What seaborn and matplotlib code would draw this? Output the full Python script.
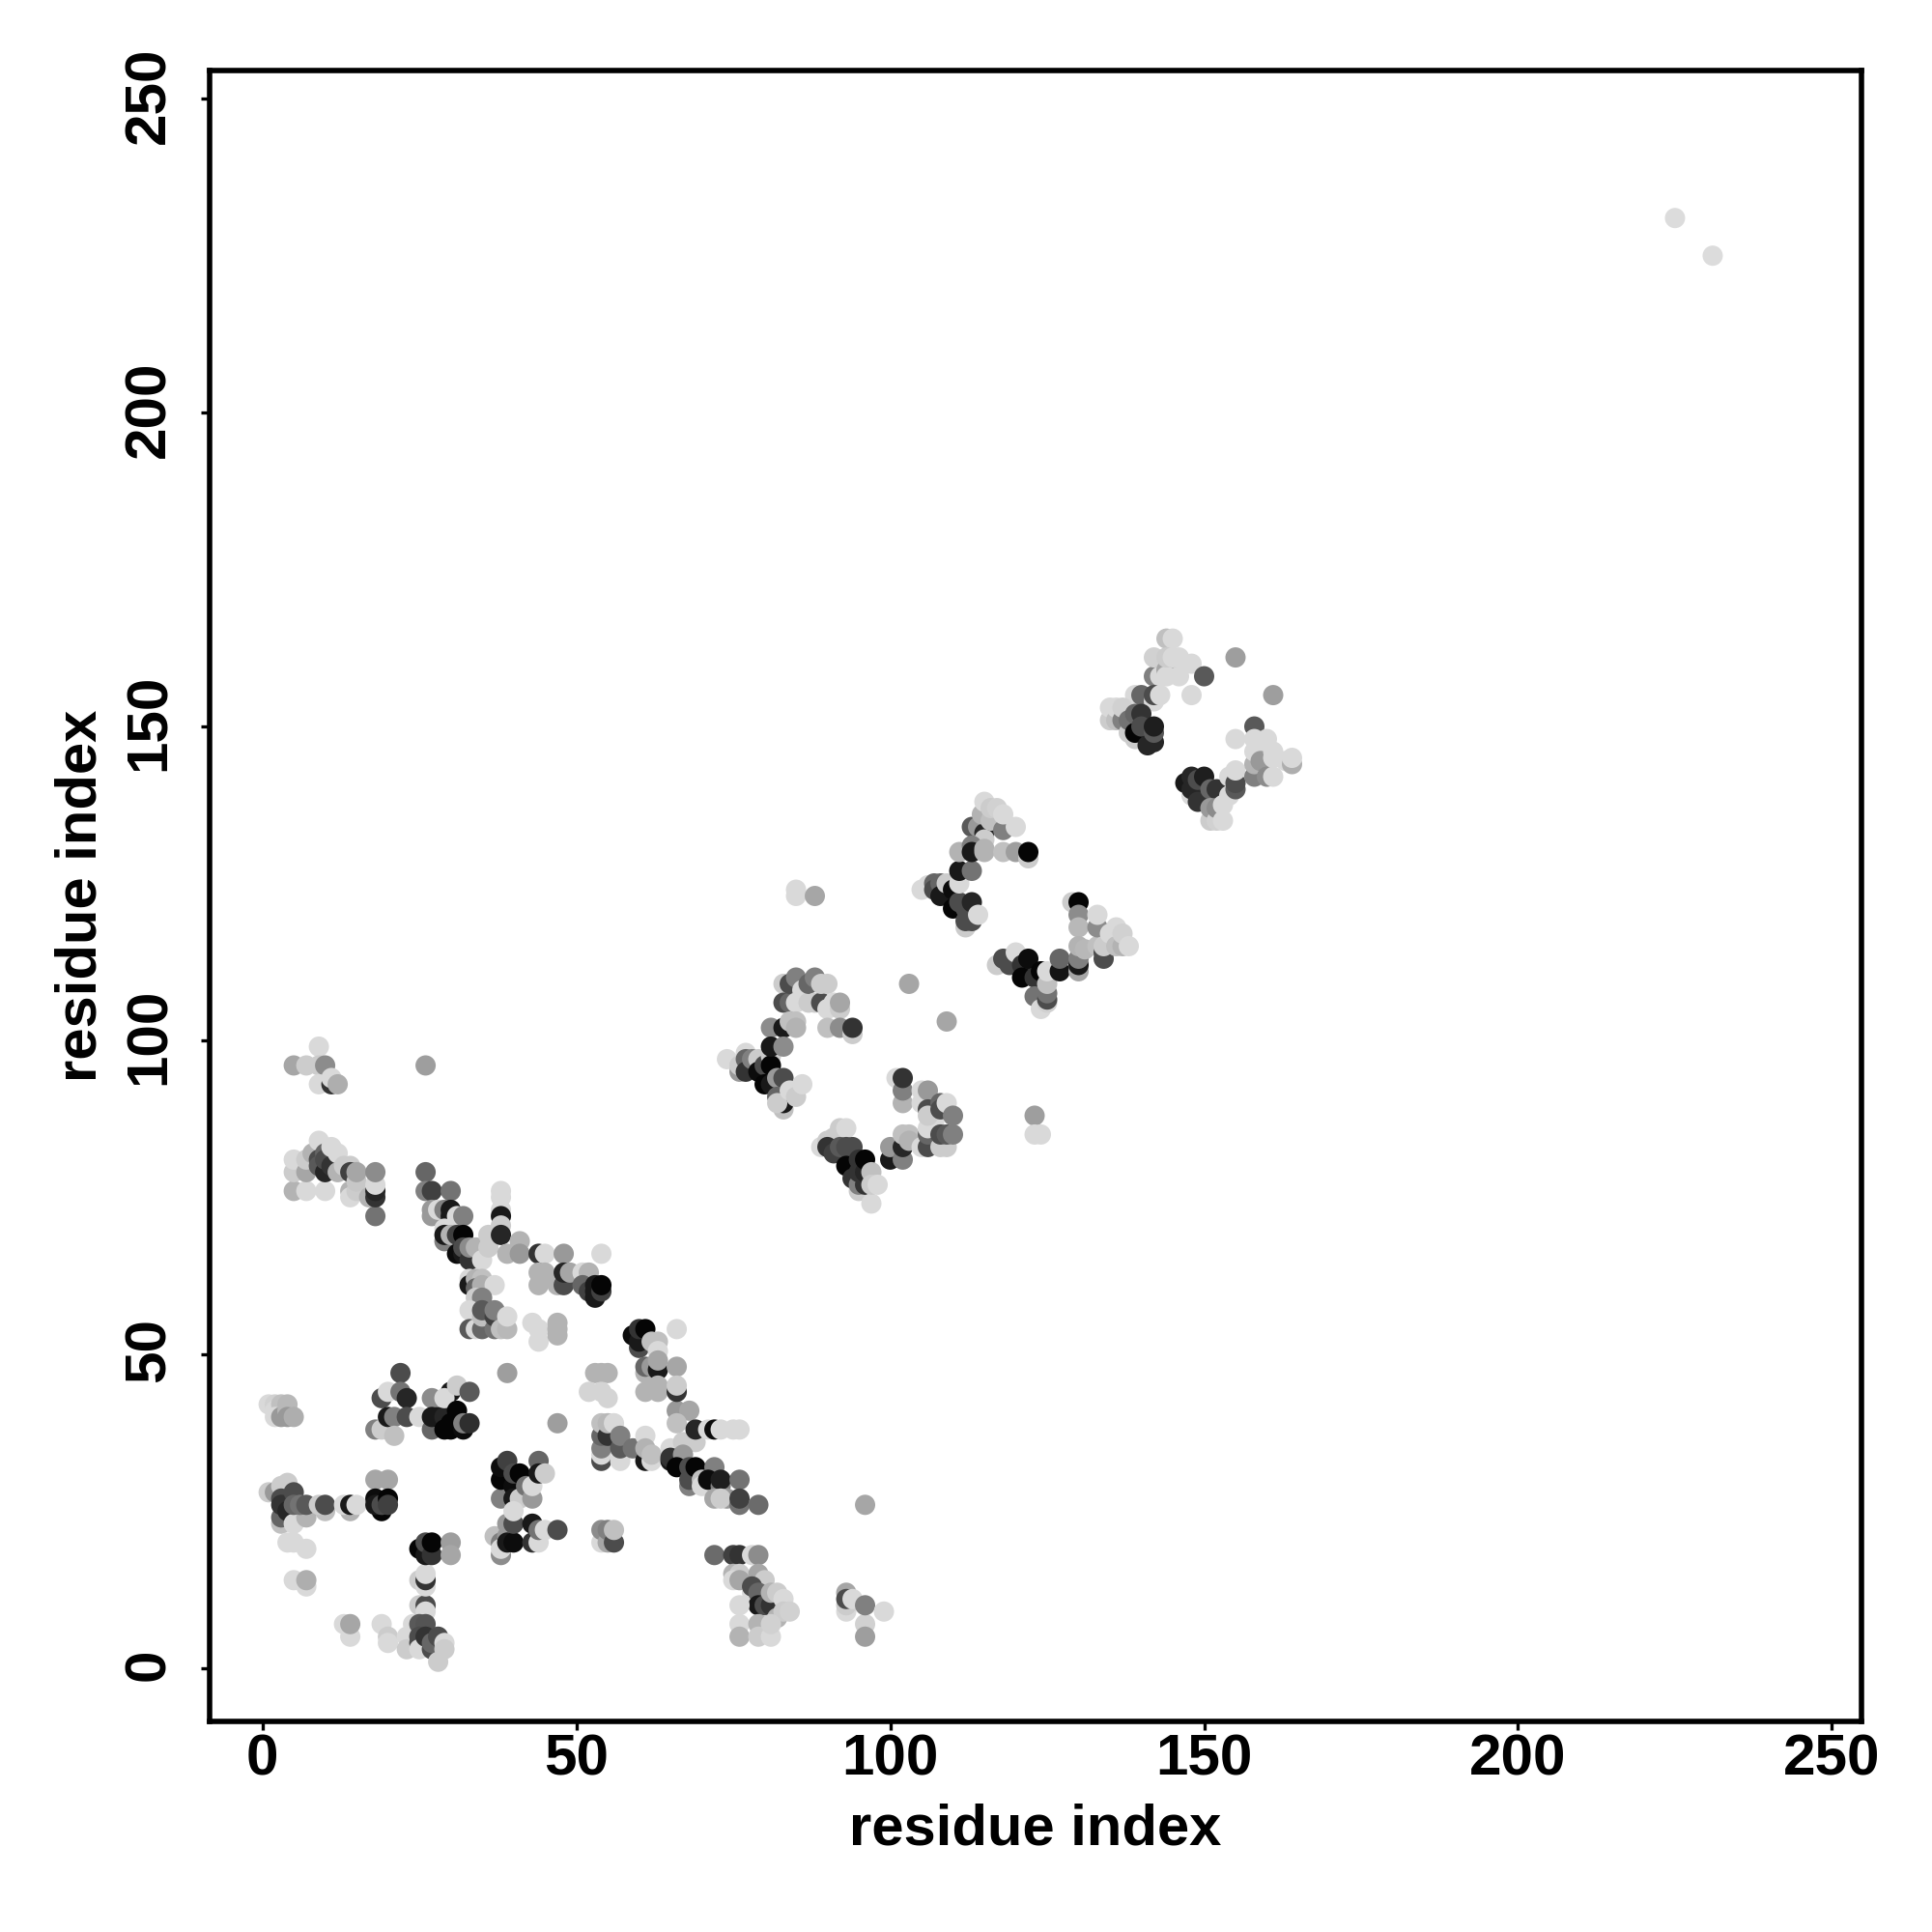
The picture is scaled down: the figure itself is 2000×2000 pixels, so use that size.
import pandas as pd
import matplotlib
matplotlib.use("Agg")
import matplotlib.pyplot as plt
from matplotlib.transforms import ScaledTranslation
import seaborn as sns

# contacts as (residue i, residue j, gray level), in drawing order
far_pair = [(225, 231, .86), (231, 225, .86)]

left_top = [
    (1, 42, .85), (2, 42, .82), (2, 41, .85), (3, 42, .75), (2, 40, .85), (3, 40, .6),
    (4, 42, .72), (4, 41, .72), (4, 40, .6), (5, 40, .68),
]
mid_40 = [
    (22, 47, .3), (18, 38, .5), (19, 38, .8), (19, 43, .3), (20, 44, .85), (22, 44, .45),
    (20, 40, .1), (21, 40, .5), (23, 43, .15), (23, 40, .3), (21, 37, .75), (25, 40, .85),
    (27, 43, .55), (27, 38, .4), (27, 40, .1), (28, 40, .1), (29, 40, .15), (29, 38, .02),
    (30, 44, .1), (29, 43, .85), (31, 45, .8), (33, 44, .35), (30, 39, .02), (30, 38, .02),
    (31, 41, .02), (32, 38, .05), (32, 39, .5), (33, 39, .18),
]
singles_low = [
    (39, 47, .62), (53, 47, .7), (54, 47, .7), (55, 47, .7), (52, 44, .83), (54, 44, .83),
    (55, 43, .83), (47, 39, .62), (96, 26, .65),
]
tail_35 = [
    (54, 33, .3), (54, 34, .85), (54, 35, .5), (54, 37, .4), (54, 39, .75), (55, 37, .2),
    (55, 39, .72), (56, 39, .85), (57, 33, .85), (57, 35, .35), (57, 37, .5), (59, 35, .45),
    (61, 37, .85), (61, 33, .1), (61, 35, .7), (62, 33, .85), (62, 34, .75),
]
strand_30 = [
    (65, 35, .85), (67, 36, .8), (69, 36, .8), (65, 33, .1), (65, 33.5, .2), (67, 34, .6),
    (66, 32, .02), (68, 29, .5), (68, 30, .3), (68, 32, .3), (69, 32, .02), (70, 30, .75),
    (70, 29, .85), (72, 32, .5), (71, 30, .05), (73, 29, .5), (73, 30, .12), (72, 27, .65),
    (74, 27, .6), (73, 27, .8), (76, 30, .45), (76, 26, .45), (76, 27, .25), (79, 26, .42),
]
top_38 = [
    (66, 41, .6), (68, 41, .65), (66, 39, .75), (69, 38, .15), (71, 38, .85), (72, 38, .05),
    (73, 38, .85), (75, 38, .85), (76, 38, .85),
]
left_26 = [
    (1, 28, .8), (2, 28, .6), (3, 29, .8), (4, 29.5, .8), (3, 23, .75), (3, 24, .4),
    (3, 27, .3), (3, 26, .2), (4, 25, .15), (5, 23, .85), (5, 28, .3), (5, 26, .4),
    (7, 24, .7), (6, 26, .45), (7, 26, .35), (10, 25, .75), (9, 26, .8), (10, 26, .3),
    (14, 25, .7), (13, 26, .85), (14, 26, .1), (15, 26, .85),
    (18, 30, .65), (20, 30, .65), (19, 25, .02), (18, 27, .05), (18, 26, .1), (19, 26, .3),
    (20, 27, .02), (20, 26, .25),
]
left_low = [
    (4, 20, .85), (5, 20, .85), (7, 19, .85), (5, 14, .85), (7, 13, .85), (7, 14, .68),
    (13, 7, .85), (14, 5, .85), (14, 7, .65), (19, 7, .85), (20, 5, .8), (20, 4, .85),
]
column_26 = [
    (23, 5, .85), (23, 3, .8), (24, 7, .85), (25, 10, .8), (26, 10, .3), (26, 9, .85),
    (25, 7, .35), (26, 7, .33), (25, 5, .3), (25, 4, .3), (25, 3, .85), (26, 5, .2),
    (27, 3, .3), (27, 4, .4), (28, 5, .3), (28, 1, .8), (29, 4, .85), (29, 3, .8),
    (25, 14, .8), (26, 13, .85), (26, 14, .2), (26, 15, .85),
    (25, 19, .02), (26, 18, .1), (26, 20, .3), (27, 18, .2), (27, 20, .02), (30, 20, .62),
    (30, 18, .65),
]
block_30 = [
    (38, 18, .55), (37, 21, .75), (38, 20, .5), (38, 19, .85), (39, 23, .6), (39, 21, .6),
    (39, 20, .1), (40, 20, .05), (40, 23, .3), (38, 27, .5), (38, 30, .02), (38, 32, .05),
    (39, 33, .25), (40, 29, .05), (40, 31, .3), (40, 27, .1), (41, 27, .8), (40, 25, .85),
    (41, 31, .02), (42, 29, .45), (43, 27, .6), (43, 29, .85), (44, 33, .4), (44, 31, .1),
    (45, 31, .8), (43, 23, .1), (43, 20, .2), (44, 20, .85), (44, 22, .45), (45, 22, .85),
    (47, 22, .3),
    (54, 20, .85), (54, 22, .55), (55, 20, .65), (55, 22, .5), (56, 20, .3), (56, 22, .75),
]
hairpin_96 = [
    (5, 96, .65), (7, 96, .8), (9, 99, .85), (9, 96, .8), (10, 96, .55), (9, 93, .85),
    (11, 93, .2), (11, 94, .85), (12, 93, .68), (26, 96, .62),
]
hairpin_80 = [
    (5, 76, .7), (7, 76, .85), (10, 76, .85), (5, 79, .8), (5, 81, .85), (7, 79, .65),
    (7, 81, .8), (8, 82, .7), (9, 84, .85), (9, 81, .3), (9, 80, .35), (10, 82, .4),
    (10, 79, .15), (10, 81, .3), (11, 80, .2), (11, 83, .85), (12, 82, .85), (12, 79, .7),
    (14, 76, .7), (14, 75, .85), (15, 76, .8), (13, 80, .8), (14, 80, .8), (14, 79, .25),
    (15, 77.5, .78), (15, 79, .65), (17, 75, .7),
    (18, 72, .45), (18, 75, .2), (18, 76, .15), (18, 77, .85), (18, 79, .55),
]
strand_70 = [
    (26, 79, .4), (26, 76, .5), (27, 76, .25), (30, 76, .45), (27, 72, .6), (27, 73, .6),
    (28, 73, .85), (29, 73, .5), (30, 72, .1), (30, 73, .1), (31, 72, .85), (32, 72, .5),
    (29, 68, .5), (29, 70, .85), (29, 69, .1), (30, 69, .7), (31, 66, .05), (31, 69, .25),
    (32, 69, .02), (32, 66, .1), (32, 67, .3), (33, 65, .2), (33, 67, .55), (34, 67, .7),
    (35, 65, .85), (36, 69, .8), (36, 67, .8),
    (38, 76, .85), (38, 75, .85), (38, 73, .85), (38, 72, .1), (38, 70.5, .8), (38, 69, .15),
]
strand_63 = [
    (41, 68, .7), (39, 66, .7), (41, 66, .6), (44, 66, .2), (45, 66, .85), (48, 66, .6),
    (54, 66, .85), (44, 63, .7), (45, 63, .7), (44, 61, .7), (47, 61, .7), (48, 61, .3),
    (48, 63, .15), (49, 63, .65), (51, 63, .85), (52, 63, .7), (51, 61, .4), (52, 60, .25),
    (53, 59, .1), (53, 61, .1), (53, 60, .1), (54, 60, .25), (54, 61, .02),
]
column_35 = [
    (33, 62, .85), (33, 61, .1), (34, 62, .7), (35, 62, .75), (34, 60.5, .4), (35, 61, .68),
    (37, 61, .85), (34, 59, .8), (35, 59, .5), (33, 57, .85), (33, 54, .35), (34, 54, .85),
    (35, 54, .4), (35, 56, .75), (35, 57, .35), (37, 54, .45), (37, 56, .25), (37, 57, .5),
    (38, 54, .75), (39, 54, .72), (39, 56, .85),
    (43, 55, .85), (44, 54, .85), (44, 52, .85), (47, 53, .7), (47, 54, .7), (47, 55, .7),
]
block_50 = [
    (59, 53, .05), (60, 51, .3), (60, 52, .1), (60, 54, .2), (61, 54, .02), (66, 54, .85),
    (62, 52, .75), (63, 52, .75), (63, 50.5, .85), (61, 47, .7), (61, 48, .4), (62, 48, .6),
    (63, 47.5, .1), (63, 49, .65), (66, 48, .65), (61, 44, .7), (63, 45, .7), (63, 44, .7),
    (66, 44, .2), (66, 45, .8),
]
low_15 = [
    (72, 18, .42), (75, 18, .25), (76, 18, .2), (78, 18, .85), (79, 18, .55),
    (75, 15, .7), (76, 15, .8), (75, 14, .85), (76, 14, .65), (79, 15, .65), (80, 14, .8),
    (78, 12, .85), (78, 13, .3), (79, 12, .4), (79, 10, .1), (80, 10, .3), (81, 10, .2),
    (81, 12, .7), (82, 12, .8), (82, 8, .7), (83, 11, .85), (83, 9, .8), (84, 9, .82),
    (76, 10, .85), (76, 7, .85), (76, 5, .7), (79, 7, .7), (79, 5, .8), (81, 5, .85), (81, 7, .82),
    (93, 12, .65), (93, 9, .85), (93, 10, .8), (93, 11, .3), (94, 11, .85),
    (96, 7, .82), (96, 5, .62), (96, 10, .5), (99, 9, .85),
]
arm_105 = [
    (85, 124, .85), (85, 123, .85), (88, 123, .65), (103, 109, .65), (109, 103, .65),
    (83, 109, .8), (83, 106, .3), (84, 106, .4), (84, 109, .3), (85, 110, .5), (85, 106, .85),
    (86, 108, .85), (87, 106, .8), (87, 109, .4), (88, 106, .8), (88, 110, .5), (89, 106, .3),
    (89, 109, .8), (90, 109, .8), (90, 105, .85), (91, 106, .85), (92, 105, .8), (92, 106, .65),
    (81, 102, .55), (83, 102, .1), (84, 103, .75), (85, 103, .75), (85, 102, .7),
    (90, 102, .75), (92, 102, .55), (94, 101, .8), (94, 102, .2),
]
arm_95 = [
    (74, 97, .85), (76, 95, .6), (76, 96, .8), (77, 98, .85), (77, 97, .4), (77, 95, .2),
    (78, 97, .5), (79, 97, .8), (79, 95, .05), (80, 96, .3), (80, 93, .02),
    (81, 97.5, .8), (81, 96, .02), (81, 99, .1), (83, 99, .55), (81, 93, .1),
    (82, 94, .6), (83, 94, .3), (83, 89, .75), (82, 91, .4), (83, 90, .1), (82, 90, .8),
    (84, 92, .85), (85, 91, .8), (86, 93, .85),
]
arm_85 = [
    (89, 83, .85), (90, 84, .8), (91, 84.5, .8), (92, 86, .8), (93, 86, .85), (90, 83, .2),
    (91, 82, .25), (92, 83, .35), (93, 83, .3), (94, 83, .3), (93, 80, .02), (94, 78, .2),
    (95, 76, .8), (95, 77, .5), (95, 79, .2), (95, 81, .2), (96, 77, .2), (96, 79, .15),
    (96, 81, .02), (97, 74, .85), (97, 79, .75), (97, 77, .8), (98, 77, .85),
    (100, 81, .1), (100, 83, .6), (102, 81, .5), (102, 83, .15), (102, 85, .75),
    (103, 85, .75), (103, 84, .7),
    (101, 94, .85), (102, 90, .7), (102, 92, .5), (102, 94, .2),
    (105, 83, .85), (106, 83, .3), (106, 85, .4), (107, 87, .85), (106, 86, .85),
    (108, 83, .8), (109, 83, .8), (108, 85, .3), (109, 85, .35), (110, 85, .5),
    (105, 92, .85), (105, 90, .85), (106, 92, .6), (106, 89, .3), (106, 88, .8),
    (108, 90, .4), (108, 89, .3), (109, 90, .85), (110, 88, .5),
    (123, 88, .62), (123, 85, .85), (124, 85, .85),
]
arm_125 = [
    (105, 124, .85), (106, 124.7, .85), (107, 125, .4), (107, 124, .3), (108, 125, .4),
    (108, 123, .1), (109, 125, .8), (110, 124, .05), (110, 121, .02), (111, 122, .3),
    (112, 118, .8), (112, 119, .3), (112, 121, .3), (113, 119, .3), (113, 122, .15),
    (114, 120, .85), (111, 125, .85), (111, 127, .1), (113, 127, .45),
]
arm_135 = [
    (113, 134, .35), (114, 134, .6), (115, 133, .15), (115, 132, .8), (114.6, 136, .7),
    (115, 138, .85), (116, 135, .75), (116, 137, .8), (117, 137, .82), (118, 133.5, .5),
    (118, 136, .85), (120, 134, .85),
    (111, 130, .7), (113, 131, .5), (113, 130, .1), (115, 130.5, .7), (115, 130, .7),
    (118, 130, .75), (120, 130, .62), (122, 129, .8), (122, 130, .02),
]
arm_112 = [
    (117, 112, .8), (118, 113, .3), (119, 112, .3), (120, 114, .85), (121, 112, .2),
    (121, 110, .02), (122, 113, .05), (123, 110, .2), (123, 107, .45), (124, 105, .85),
    (124, 111, .02), (125, 106, .82), (125, 106.5, .3), (125, 107.5, .45), (125, 109, .75),
    (125, 111, .85), (127, 111, .08), (127, 113, .4),
    (129, 122, .8), (130, 122, .02), (130, 120, .55), (130, 118, .72),
    (130, 111, .65), (130, 112, .1), (130, 113, .5), (130, 115, .7), (131, 114.5, .72),
    (133, 115, .75), (133, 118, .55), (133, 120, .85), (134, 113, .3), (134, 114, .3),
    (134, 115, .8), (135, 117, .85), (136, 115, .75), (136, 118, .85), (137, 115, .7),
    (137, 117, .82), (138, 115, .85),
]
arm_155 = [
    (142, 158, .5), (143, 158, .85), (142, 161, .82), (144, 164, .75), (145, 164, .85),
    (144, 159, .65), (144, 158, .85), (144, 161, .8), (145, 161, .85), (146, 158, .85),
    (146, 161, .85), (148, 160, .85), (148, 155, .85), (150, 158, .35), (155, 161, .62),
    (161, 155, .62), (139, 155, .85), (140, 155, .4), (142, 154, .85), (142, 155, .3), (143, 155, .85),
]
arm_150 = [
    (135, 151, .8), (135, 153, .85), (136, 151, .75), (136, 153, .85), (137, 151, .5),
    (137, 153, .82), (138, 149, .8), (138, 151, .45), (139, 148, .8), (139, 149, .02),
    (139, 152, .4), (140, 152, .2), (140, 150, .3), (141, 147, .15), (142, 147.5, .15),
    (142, 149, .35), (142, 150, .12),
]
arm_140 = [
    (147, 141, .1), (148, 139, .85), (148, 140, .15), (148, 142, .15), (149, 138, .2),
    (149, 141.5, .3), (150, 142, .12), (150, 138, .2), (151, 140, .4), (152, 140, .2),
    (151, 135, .8), (151, 137, .6), (152, 135, .82), (152, 137, .55), (153, 135, .85),
    (153, 137.5, .85), (154, 139, .85), (154, 142, .85), (155, 140, .35), (155, 141, .3),
    (155, 143, .85), (155, 148, .85),
    (158, 150, .35), (158, 142, .5), (158, 144, .7), (158, 146, .85), (158, 148, .85),
    (159, 144.5, .6), (160, 142, .55), (160, 148, .85), (161, 142, .85), (161, 145, .85),
    (161, 146, .85), (163, 144.5, .85), (164, 144, .68), (164, 145, .85),
]

regions = [
    far_pair, left_top, mid_40, singles_low, tail_35, strand_30, top_38, left_26, left_low,
    column_26, block_30, hairpin_96, hairpin_80, strand_70, strand_63, column_35, block_50,
    low_15, arm_105, arm_95, arm_85, arm_125, arm_135, arm_112, arm_155, arm_150, arm_140,
]
tick_values = [0, 50, 100, 150, 200, 250]


def load_contacts():
    rows = [row for region in regions for row in region]
    return pd.DataFrame(rows, columns=["i", "j", "shade"])


def contact_map(df):
    sns.set_theme(style="white")
    plt.rcParams["font.family"] = ["Liberation Sans", "DejaVu Sans"]

    fig, ax = plt.subplots(figsize=(10, 10), dpi=200)
    fig.subplots_adjust(left=217 / 2000, right=1927 / 2000, top=1 - 73 / 2000, bottom=1 - 1782 / 2000)

    sns.scatterplot(
        data=df, x="i", y="j", hue="shade", palette="gray", hue_norm=(0, 1),
        s=57, linewidth=0, legend=False, ax=ax,
    )

    ax.set_xlim(-8.4, 254.7)
    ax.set_ylim(-8.5, 254.5)
    ax.set_xticks(tick_values)
    ax.set_yticks(tick_values)
    ax.tick_params(axis="both", direction="out", length=3.1, width=1.2, color="black",
                   labelsize=21.7, labelcolor="black", bottom=True, left=True)
    ax.tick_params(axis="x", pad=1.5)
    ax.tick_params(axis="y", pad=9.3)
    for label in ax.get_xticklabels():
        label.set_fontweight("bold")
    # rotated labels sit a little low, nudge them up
    nudge = ScaledTranslation(0, 1.4 / 72, fig.dpi_scale_trans)
    for label in ax.get_yticklabels():
        label.set_fontweight("bold")
        label.set_rotation(90)
        label.set_verticalalignment("center")
        label.set_transform(label.get_transform() + nudge)
    ax.set_xlabel("residue index", fontsize=21.5, fontweight="bold", color="black", labelpad=6)
    ax.set_ylabel("residue index", fontsize=21.5, fontweight="bold", color="black", labelpad=5.7)
    for spine in ax.spines.values():
        spine.set_linewidth(2.0)
        spine.set_color("black")

    fig.savefig("out.png", dpi=200)


if __name__ == "__main__":
    contact_map(load_contacts())
